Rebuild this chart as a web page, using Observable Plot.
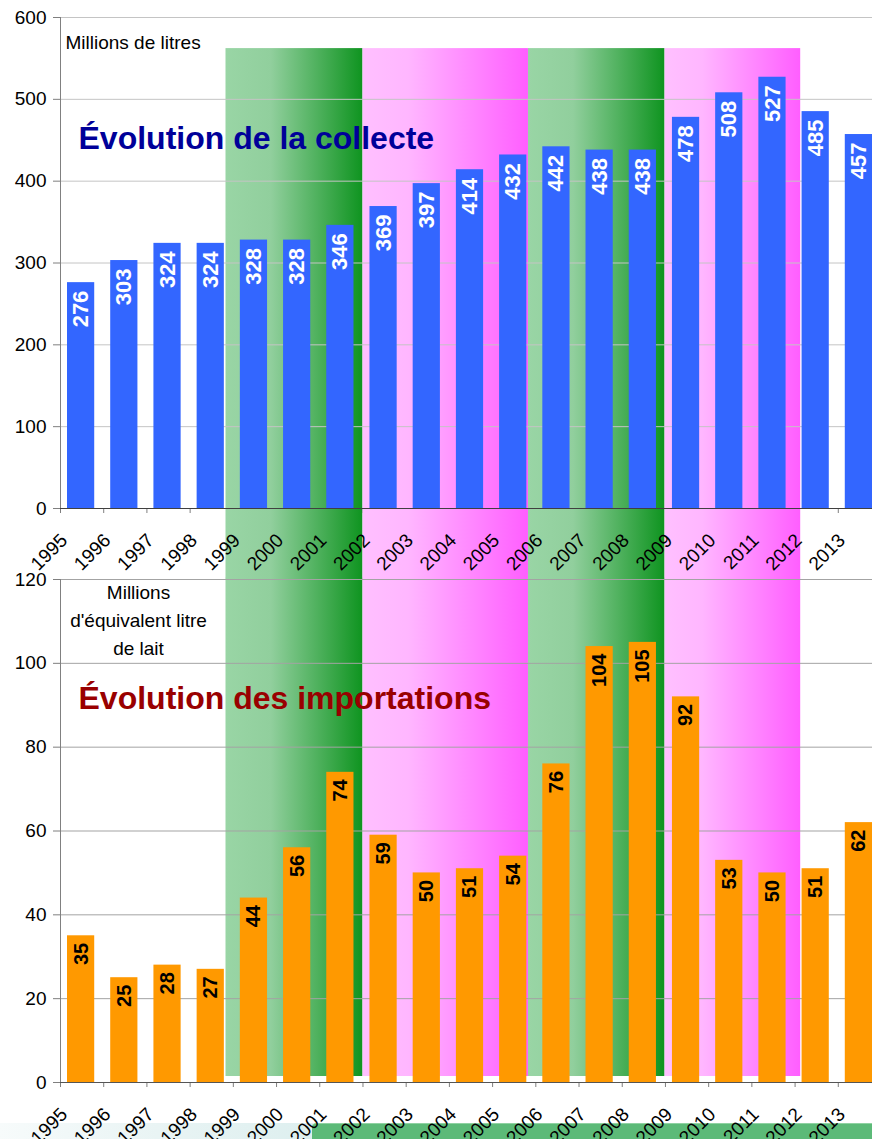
<!DOCTYPE html>
<html>
<head>
<meta charset="utf-8">
<script src="https://cdn.jsdelivr.net/npm/d3@7"></script>
<script src="https://cdn.jsdelivr.net/npm/@observablehq/plot@0.6"></script>
<style>
  html, body { margin: 0; padding: 0; background: #ffffff; }
  #wrap { position: relative; width: 872px; height: 1139px; overflow: hidden; }
  #chartTop { position: absolute; left: 0; top: 0; z-index: 2; }
  #chartBottom { position: absolute; left: 0; top: 578px; z-index: 1; }
  #stripLeft { position: absolute; left: 0; top: 1123px; width: 313px; height: 16px; z-index: 0;
               background: linear-gradient(to right, #f7fbfb 0%, #e9f4f4 50%, #ddefef 100%); }
  #stripRight { position: absolute; left: 312px; top: 1123px; width: 560px; height: 16px; z-index: 0;
                background: #5cba78; border-top: 1px solid #8fd2a2; border-top-left-radius: 4px; box-sizing: border-box; }
</style>
</head>
<body>
<div id="wrap">
  <div id="stripLeft"></div>
  <div id="stripRight"></div>
  <div id="chartBottom"></div>
  <div id="chartTop"></div>
</div>
<script>
// ---------- data ----------
const years = [1995, 1996, 1997, 1998, 1999, 2000, 2001, 2002, 2003, 2004, 2005, 2006, 2007, 2008, 2009, 2010, 2011, 2012, 2013];
const collecte = [276, 303, 324, 324, 328, 328, 346, 369, 397, 414, 432, 442, 438, 438, 478, 508, 527, 485, 457];
const importations = [35, 25, 28, 27, 44, 56, 74, 59, 50, 51, 54, 76, 104, 105, 92, 53, 50, 51, 62];
const yTicksTop = [0, 100, 200, 300, 400, 500, 600];
const yTicksBottom = [0, 20, 40, 60, 80, 100, 120];
const greenPeriods = [{start: 1998.83, end: 2002.0}, {start: 2005.83, end: 2008.99}];
const pinkPeriods = [{start: 2002.0, end: 2005.83}, {start: 2008.99, end: 2012.13}];
const titleTop = "Évolution de la collecte";
const titleBottom = "Évolution des importations";
const unitTop = "Millions de litres";
const unitBottom = "Millions\nd'équivalent litre\nde lait";

const FONT = '"Liberation Sans", Arial, Helvetica, sans-serif';
const topData = years.map((year, i) => ({year, value: collecte[i]}));
const bottomData = years.map((year, i) => ({year, value: importations[i]}));

const xScale = () => ({
  type: "linear",
  domain: [years[0], years[years.length - 1] + 1],
  range: [60, 881],
  ticks: years,
  tickSize: 5,
  tickFormat: () => "",
  label: null
});

function addGradients(svg, prefix) {
  const defs = d3.select(svg).insert("defs", ":first-child");
  const g = defs.append("linearGradient").attr("id", prefix + "Green")
    .attr("x1", 0).attr("x2", 1).attr("y1", 0).attr("y2", 0);
  g.append("stop").attr("offset", "0%").attr("stop-color", "#99d5a5");
  g.append("stop").attr("offset", "33%").attr("stop-color", "#91cf9d");
  g.append("stop").attr("offset", "100%").attr("stop-color", "#0f9420");
  const p = defs.append("linearGradient").attr("id", prefix + "Pink")
    .attr("x1", 0).attr("x2", 1).attr("y1", 0).attr("y2", 0);
  p.append("stop").attr("offset", "0%").attr("stop-color", "#ffc0ff");
  p.append("stop").attr("offset", "28%").attr("stop-color", "#ffb6ff");
  p.append("stop").attr("offset", "100%").attr("stop-color", "#ff5eff");
}

function fixSvg(svg) {
  svg.style.background = "transparent";
  svg.style.overflow = "visible";
  svg.style.color = "#7f7f7f";
  svg.style.fontFamily = FONT;
  svg.style.fontSize = "19px";
  svg.style.maxWidth = "none";
}

// ---------- top chart ----------
const topPlot = Plot.plot({
  width: 872,
  height: 578,
  marginLeft: 60,
  marginRight: 0,
  marginTop: 17,
  marginBottom: 70,
  x: xScale(),
  y: {domain: [0, 600], ticks: yTicksTop, tickSize: 7, tickFormat: () => "", label: null},
  marks: [
    Plot.rect(greenPeriods, {x1: "start", x2: "end", y1: -86, y2: 562, fill: "url(#topGreen)"}),
    Plot.rect(pinkPeriods, {x1: "start", x2: "end", y1: -86, y2: 562, fill: "url(#topPink)"}),
    Plot.ruleY(yTicksTop.slice(1), {stroke: "#c4c4c4"}),
    Plot.rectY(topData, {x1: "year", x2: d => d.year + 1, y: "value", insetLeft: 7, insetRight: 9, fill: "#3366ff"}),
    Plot.text(topData, {x: d => d.year + 0.5, y: "value", text: d => String(d.value), rotate: -90,
      textAnchor: "end", dx: -1, dy: 8, fill: "white", fontWeight: "bold", fontSize: 22}),
    Plot.ruleX([years[0]], {stroke: "#808080"}),
    Plot.ruleY([0], {stroke: "#404040"}),
    Plot.text(yTicksTop, {y: d => d, text: d => String(d), frameAnchor: "left", textAnchor: "end",
      dx: -14, fill: "black", fontSize: 19}),
    Plot.text(years, {x: d => d, text: d => String(d), frameAnchor: "bottom", rotate: -45,
      textAnchor: "end", dx: 8, dy: 33, fill: "black", fontSize: 19}),
    Plot.text([unitTop], {text: d => d, frameAnchor: "top-left", dx: 5, dy: 31, lineAnchor: "bottom",
      textAnchor: "start", fill: "black", fontSize: 19}),
    Plot.text([titleTop], {text: d => d, frameAnchor: "top-left", dx: 18, dy: 131, lineAnchor: "bottom",
      textAnchor: "start", fill: "#000099", fontWeight: "bold", fontSize: 32})
  ]
});
fixSvg(topPlot);
addGradients(topPlot, "top");
document.getElementById("chartTop").appendChild(topPlot);

// ---------- bottom chart ----------
const bottomPlot = Plot.plot({
  width: 872,
  height: 561,
  marginLeft: 60,
  marginRight: 0,
  marginTop: 1,
  marginBottom: 57,
  x: xScale(),
  y: {domain: [0, 120], ticks: yTicksBottom, tickSize: 7, tickFormat: () => "", label: null},
  marks: [
    Plot.rect(greenPeriods, {x1: "start", x2: "end", y1: 1.43, y2: 120.3, fill: "url(#botGreen)"}),
    Plot.rect(pinkPeriods, {x1: "start", x2: "end", y1: 1.43, y2: 120.3, fill: "url(#botPink)"}),
    Plot.ruleY(yTicksBottom.slice(1), {stroke: "#a3a3a3"}),
    Plot.rectY(bottomData, {x1: "year", x2: d => d.year + 1, y: "value", insetLeft: 7, insetRight: 9, fill: "#ff9900"}),
    Plot.text(bottomData, {x: d => d.year + 0.5, y: "value", text: d => String(d.value), rotate: -90,
      textAnchor: "end", dx: -1, dy: 7, fill: "black", fontWeight: "bold", fontSize: 20}),
    Plot.ruleX([years[0]], {stroke: "#808080"}),
    Plot.ruleY([0], {stroke: "#555555"}),
    Plot.text(yTicksBottom, {y: d => d, text: d => String(d), frameAnchor: "left", textAnchor: "end",
      dx: -14, fill: "black", fontSize: 19}),
    Plot.text(years, {x: d => d, text: d => String(d), frameAnchor: "bottom", rotate: -45,
      textAnchor: "end", dx: 8, dy: 33, fill: "black", fontSize: 19}),
    Plot.text([unitBottom], {text: d => d, frameAnchor: "top-left", dx: 78, dy: 75, lineAnchor: "bottom",
      lineHeight: 1.47, textAnchor: "middle", fill: "black", fontSize: 19}),
    Plot.text([titleBottom], {text: d => d, frameAnchor: "top-left", dx: 18, dy: 129, lineAnchor: "bottom",
      textAnchor: "start", fill: "#990000", fontWeight: "bold", fontSize: 32})
  ]
});
fixSvg(bottomPlot);
addGradients(bottomPlot, "bot");
document.getElementById("chartBottom").appendChild(bottomPlot);
</script>
</body>
</html>
